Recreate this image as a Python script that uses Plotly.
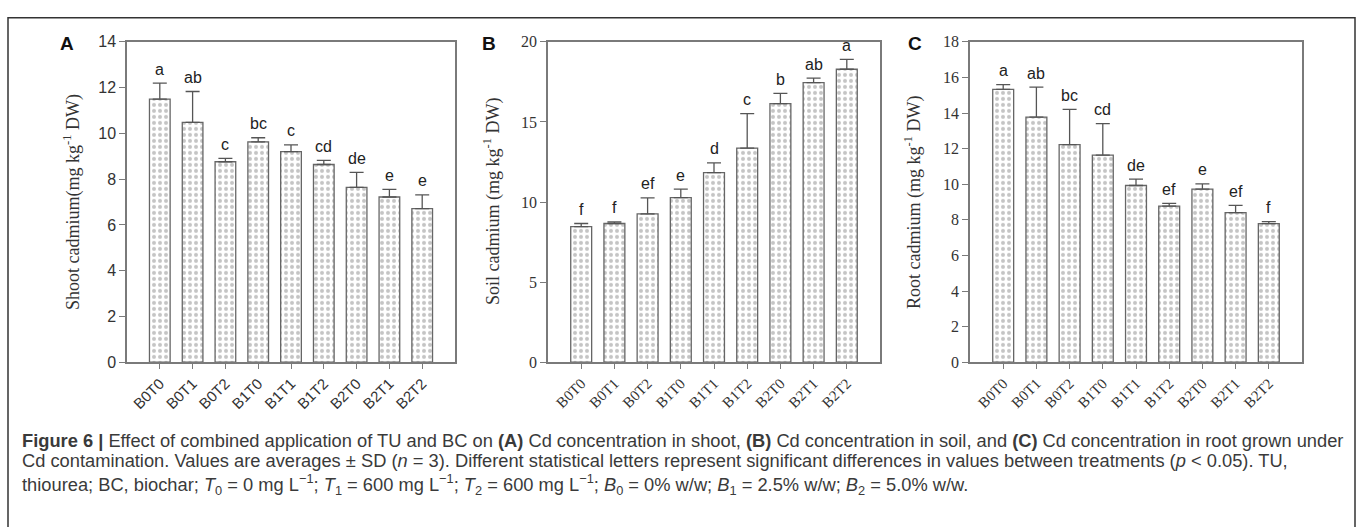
import plotly.graph_objects as go

# Treatments (biochar level x thiourea level)
treatments = ["B0T0", "B0T1", "B0T2", "B1T0", "B1T1", "B1T2", "B2T0", "B2T1", "B2T2"]

# Shoot Cd (mg kg-1 DW): mean, SD, letters
shoot_mean = [11.50, 10.48, 8.76, 9.63, 9.20, 8.64, 7.64, 7.22, 6.71]
shoot_sd = [0.70, 1.35, 0.15, 0.18, 0.30, 0.18, 0.66, 0.33, 0.60]
shoot_letters = ["a", "ab", "c", "bc", "c", "cd", "de", "e", "e"]

# Soil Cd (mg kg-1 DW)
soil_mean = [8.46, 8.66, 9.26, 10.27, 11.84, 13.37, 16.15, 17.46, 18.29]
soil_sd = [0.20, 0.10, 1.00, 0.53, 0.60, 2.15, 0.63, 0.28, 0.62]
soil_letters = ["f", "f", "ef", "e", "d", "c", "b", "ab", "a"]

# Root Cd (mg kg-1 DW)
root_mean = [15.33, 13.77, 12.23, 11.64, 9.93, 8.77, 9.72, 8.41, 7.79]
root_sd = [0.27, 1.69, 1.98, 1.77, 0.36, 0.15, 0.30, 0.40, 0.11]
root_letters = ["a", "ab", "bc", "cd", "de", "ef", "e", "ef", "f"]

W, H = 1360, 527
SANS = "Liberation Sans, Arial, sans-serif"
SERIF = "Liberation Serif, Times New Roman, serif"

panels = [
    dict(mean=shoot_mean, sd=shoot_sd, letters=shoot_letters, x0=127, x1=455,
         yr=[0, 14], dtick=2, tickfont=SANS, label="A", label_x=67,
         title="Shoot cadmium(mg kg<sup>-1</sup> DW)", title_x=72),
    dict(mean=soil_mean, sd=soil_sd, letters=soil_letters, x0=548, x1=880,
         yr=[0, 20], dtick=5, tickfont=SERIF, label="B", label_x=489,
         title="Soil cadmium (mg kg<sup>-1</sup> DW)", title_x=492),
    dict(mean=root_mean, sd=root_sd, letters=root_letters, x0=970, x1=1302,
         yr=[0, 18], dtick=2, tickfont=SERIF, label="C", label_x=915,
         title="Root cadmium (mg kg<sup>-1</sup> DW)", title_x=913),
]

PLOT_TOP, PLOT_BOTTOM = 35, 366
AXIS_COLOR = "#7a7a7a"

fig = go.Figure()
annotations = []
layout_axes = {}

for i, p in enumerate(panels, start=1):
    xa = "x" if i == 1 else f"x{i}"
    ya = "y" if i == 1 else f"y{i}"
    fig.add_trace(go.Bar(
        x=treatments, y=p["mean"], xaxis=xa, yaxis=ya, width=0.63,
        marker=dict(color="white",
                    line=dict(color="#666666", width=1.3),
                    pattern=dict(shape=".", fgcolor="#8a8a8a", bgcolor="white",
                                 size=6, solidity=0.35)),
        error_y=dict(type="data", symmetric=False, array=p["sd"],
                     arrayminus=[0] * len(p["sd"]),
                     color="#555555", thickness=1.3, width=7),
        showlegend=False, hoverinfo="skip",
    ))
    xkey = "xaxis" if i == 1 else f"xaxis{i}"
    ykey = "yaxis" if i == 1 else f"yaxis{i}"
    layout_axes[xkey] = dict(
        domain=[p["x0"] / W, p["x1"] / W], anchor=ya,
        type="category", categoryorder="array", categoryarray=treatments,
        range=[-1, 9], tickangle=-45,
        tickfont=dict(family=p["tickfont"], size=15, color="#333333"),
        showline=True, mirror=True, linecolor=AXIS_COLOR, linewidth=1.5,
        ticks="outside", ticklen=5, tickcolor=AXIS_COLOR, tickwidth=1.2,
        showgrid=False, zeroline=False,
    )
    layout_axes[ykey] = dict(
        domain=[1 - PLOT_BOTTOM / H, 1 - PLOT_TOP / H], anchor=xa,
        range=p["yr"], dtick=p["dtick"],
        tickfont=dict(family=p["tickfont"], size=16, color="#333333"),
        showline=True, mirror=True, linecolor=AXIS_COLOR, linewidth=1.5,
        ticks="outside", ticklen=6, tickcolor=AXIS_COLOR, tickwidth=1.2,
        showgrid=False, zeroline=False,
    )
    # significance letters above the error bars
    for t, m, s, lab in zip(treatments, p["mean"], p["sd"], p["letters"]):
        annotations.append(dict(
            x=t, y=m + s, xref=xa, yref=ya, text=lab, showarrow=False,
            yanchor="middle", yshift=14,
            font=dict(family=SANS, size=16, color="#222222"),
        ))
    # panel letter
    annotations.append(dict(
        x=p["label_x"] / W, y=1 - 37 / H, xref="paper", yref="paper",
        text=f"<b>{p['label']}</b>", showarrow=False,
        xanchor="center", yanchor="middle",
        font=dict(family=SANS, size=19, color="#111111"),
    ))
    # y-axis title
    annotations.append(dict(
        x=p["title_x"] / W, y=1 - (PLOT_TOP + PLOT_BOTTOM) / 2 / H,
        xref="paper", yref="paper", text=p["title"], showarrow=False,
        textangle=-90, xanchor="center", yanchor="middle",
        font=dict(family=SERIF, size=18, color="#333333"),
    ))

# figure caption, one annotation per line
caption_lines = [
    "<b>Figure 6 |</b> Effect of combined application of TU and BC on <b>(A)</b> Cd concentration in shoot, "
    "<b>(B)</b> Cd concentration in soil, and <b>(C)</b> Cd concentration in root grown under",
    "Cd contamination. Values are averages ± SD (<i>n</i> = 3). Different statistical letters represent "
    "significant differences in values between treatments (<i>p</i> &lt; 0.05). TU,",
    "thiourea; BC, biochar; <i>T</i><sub>0</sub> = 0 mg L<sup>−1</sup>; <i>T</i><sub>1</sub> = 600 mg L<sup>−1</sup>; "
    "<i>T</i><sub>2</sub> = 600 mg L<sup>−1</sup>; <i>B</i><sub>0</sub> = 0% w/w; "
    "<i>B</i><sub>1</sub> = 2.5% w/w; <i>B</i><sub>2</sub> = 5.0% w/w.",
]
caption_y = [447, 468, 492]
for line, cy in zip(caption_lines, caption_y):
    annotations.append(dict(
        x=20 / W, y=1 - cy / H, xref="paper", yref="paper", text=line,
        showarrow=False, xanchor="left", yanchor="middle", align="left",
        font=dict(family=SANS, size=18.3, color="#3a3a3a"),
    ))

# outer frame
shapes = [dict(type="rect", xref="paper", yref="paper",
               x0=8 / W, x1=1355 / W, y0=-0.05, y1=1 - 10 / H,
               line=dict(color="#333333", width=1.5), fillcolor="rgba(0,0,0,0)")]

fig.update_layout(
    width=W, height=H, margin=dict(l=0, r=0, t=0, b=0),
    paper_bgcolor="white", plot_bgcolor="white",
    annotations=annotations, shapes=shapes, bargap=0.37,
    **layout_axes,
)

fig.write_html("out.html")
